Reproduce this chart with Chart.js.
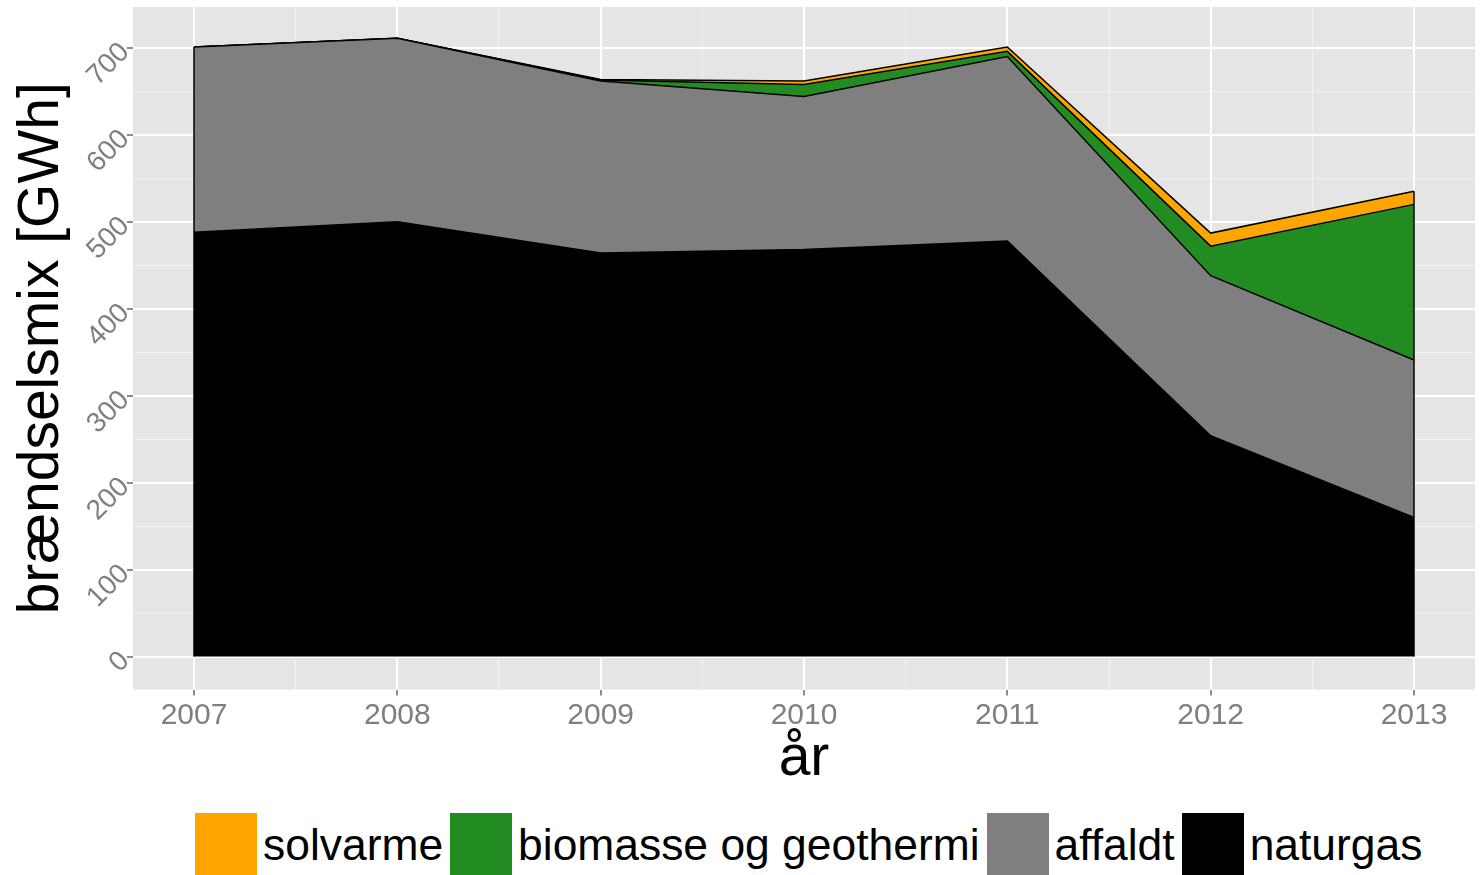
<!DOCTYPE html>
<html>
<head>
<meta charset="utf-8">
<script src="https://cdn.jsdelivr.net/npm/chart.js@4.4.0/dist/chart.umd.min.js"></script>
<style>
    body { margin: 0; background: #fff; width: 1482px; height: 875px; overflow: hidden; font-family: "Liberation Sans", Arial, sans-serif; }
    #bieuDo { display: block; }
    #legend { position: absolute; left: 195px; top: 813px; display: flex; align-items: flex-start; }
    #legend .item { display: flex; align-items: flex-start; margin-right: 7px; }
    #legend .box { width: 62px; height: 62px; margin-right: 6px; }
    #legend .txt { font-size: 44.4px; line-height: 64px; color: #000; white-space: nowrap; }
</style>
</head>
<body>
<canvas id="bieuDo" width="1482" height="793"></canvas>
<div id="legend"></div>
<script>
// data (GWh)
const aar = [2007, 2008, 2009, 2010, 2011, 2012, 2013];
const naturgas = [488, 500, 464, 468, 478, 254, 160];
const affaldt = [213, 211, 198, 176, 212, 184, 181];
const biomasse = [0, 0, 1, 14, 6, 34, 179];
const solvarme = [0, 0, 0.5, 4, 5, 15, 15];

const yMajor = [0, 100, 200, 300, 400, 500, 600, 700];
const yMinor = [50, 150, 250, 350, 450, 550, 650];
const xMajor = [2007, 2008, 2009, 2010, 2011, 2012, 2013];
const xMinor = [2007.5, 2008.5, 2009.5, 2010.5, 2011.5, 2012.5];

// stack order bottom -> top
const serier = [
    { navn: 'naturgas', data: naturgas, farve: '#000000' },
    { navn: 'affaldt', data: affaldt, farve: '#7f7f7f' },
    { navn: 'biomasse og geothermi', data: biomasse, farve: '#228b22' },
    { navn: 'solvarme', data: solvarme, farve: '#ffa500' }
];

Chart.defaults.font.family = '"Liberation Sans", Arial, sans-serif';

const panelBaggrund = {
    id: 'panelBaggrund',
    beforeDraw(chart) {
        const { ctx, chartArea: a } = chart;
        ctx.save();
        ctx.fillStyle = '#e5e5e5';
        ctx.fillRect(a.left, a.top, a.right - a.left, a.bottom - a.top);
        ctx.restore();
    }
};

// ggplot draws the polygon outline, so the ends get a vertical edge
const kantLinjer = {
    id: 'kantLinjer',
    afterDatasetsDraw(chart) {
        const { ctx, scales: { x, y } } = chart;
        const top = chart.getDatasetMeta(chart.data.datasets.length - 1);
        [0, aar.length - 1].forEach(i => {
            const px = x.getPixelForValue(aar[i]);
            ctx.save();
            ctx.strokeStyle = '#000';
            ctx.lineWidth = 1.5;
            ctx.beginPath();
            ctx.moveTo(px, y.getPixelForValue(0));
            ctx.lineTo(px, top.data[i].y);
            ctx.stroke();
            ctx.restore();
        });
    }
};

function erMajor(liste, v) { return liste.includes(v); }

const BieuDo = new Chart(document.getElementById('bieuDo').getContext('2d'), {
    type: 'line',
    data: {
        datasets: serier.map((s, i) => ({
            label: s.navn,
            data: aar.map((a, j) => ({ x: a, y: s.data[j] })),
            backgroundColor: s.farve,
            borderColor: '#000',
            borderWidth: 1.5,
            pointRadius: 0,
            tension: 0,
            fill: i === 0 ? 'origin' : '-1'
        }))
    },
    options: {
        responsive: false,
        animation: false,
        layout: { padding: { top: 7, right: 7, left: 0, bottom: 0 } },
        plugins: { legend: { display: false }, tooltip: { enabled: false } },
        scales: {
            x: {
                type: 'linear',
                min: 2006.7,
                max: 2013.3,
                afterBuildTicks: s => { s.ticks = [...xMajor, ...xMinor].sort((a, b) => a - b).map(v => ({ value: v })); },
                border: { display: false },
                grid: {
                    color: c => (c.tick && erMajor(xMajor, c.tick.value)) ? '#ffffff' : '#f2f2f2',
                    lineWidth: c => (c.tick && erMajor(xMajor, c.tick.value)) ? 2 : 1,
                    tickColor: c => (c.tick && erMajor(xMajor, c.tick.value)) ? '#666666' : 'rgba(0,0,0,0)',
                    tickLength: 6,
                    tickWidth: 1.5
                },
                ticks: {
                    autoSkip: false,
                    maxRotation: 0,
                    padding: 2,
                    color: '#7f7f7f',
                    font: { size: 30 },
                    callback: v => erMajor(xMajor, v) ? String(v) : ''
                },
                title: { display: true, text: 'år', color: '#000', font: { size: 57 }, padding: { top: -11, bottom: 0 } }
            },
            y: {
                stacked: true,
                min: -38,
                max: 747,
                afterBuildTicks: s => { s.ticks = [...yMajor, ...yMinor].sort((a, b) => a - b).map(v => ({ value: v })); },
                afterFit: s => { s.width = 133; s.paddingTop = 0; s.paddingBottom = 0; },
                border: { display: false },
                grid: {
                    color: c => (c.tick && erMajor(yMajor, c.tick.value)) ? '#ffffff' : '#f2f2f2',
                    lineWidth: c => (c.tick && erMajor(yMajor, c.tick.value)) ? 2 : 1,
                    tickColor: c => (c.tick && erMajor(yMajor, c.tick.value)) ? '#666666' : 'rgba(0,0,0,0)',
                    tickLength: 6,
                    tickWidth: 1.5
                },
                ticks: {
                    autoSkip: false,
                    minRotation: 45,
                    maxRotation: 45,
                    padding: 2,
                    color: '#7f7f7f',
                    font: { size: 28 },
                    callback: v => erMajor(yMajor, v) ? String(v) : ''
                },
                title: { display: true, text: 'brændselsmix [GWh]', color: '#000', font: { size: 57 }, padding: { top: 8, bottom: 0 } }
            }
        }
    },
    plugins: [panelBaggrund, kantLinjer]
});

// legend, same order as the reference (top of stack first)
const legendEl = document.getElementById('legend');
serier.slice().reverse().forEach(s => {
    const item = document.createElement('div');
    item.className = 'item';
    item.innerHTML = `<div class="box" style="background:${s.farve}"></div><div class="txt">${s.navn}</div>`;
    legendEl.appendChild(item);
});
</script>
</body>
</html>
